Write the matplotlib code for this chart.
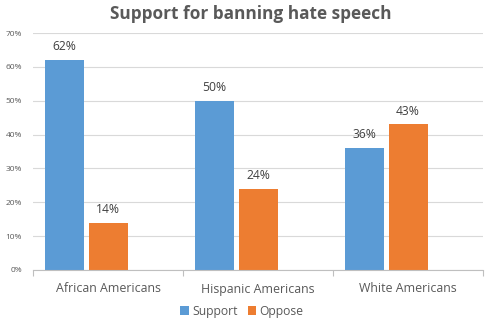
import numpy as np
import matplotlib.pyplot as plt
from matplotlib.ticker import FixedLocator, PercentFormatter

plt.rcParams['font.family'] = ['Open Sans', 'DejaVu Sans']

groups = ['African Americans', 'Hispanic Americans', 'White Americans']
support = [62, 50, 36]
oppose = [14, 24, 43]
yticks = [0, 10, 20, 30, 40, 50, 60, 70]

blue = '#5B9BD5'
orange = '#ED7D31'
text_c = '#595959'

fig = plt.figure(figsize=(4.87, 3.30), dpi=100)
ax = fig.add_axes([33 / 487, 60 / 330, 450 / 487, 237 / 330])

x = np.arange(len(groups))
w = 0.26
step = 0.293
b1 = ax.bar(x - step, support, w, color=blue, label='Support')
b2 = ax.bar(x, oppose, w, color=orange, label='Oppose')

# value labels sit just above each bar
for bars in (b1, b2):
    for r in bars:
        ax.text(r.get_x() + r.get_width() / 2, r.get_height() + 2.0,
                f'{r.get_height():.0f}%', ha='center', va='bottom',
                fontsize=8.7, color='#404040')

ax.set_xlim(-0.5, 2.5)
ax.set_ylim(0, 70)
ax.set_yticks(yticks)
ax.yaxis.set_major_formatter(PercentFormatter(decimals=0))
ax.tick_params(axis='y', length=0, labelsize=6, labelcolor=text_c, pad=8)
ax.grid(axis='y', color='#D9D9D9', linewidth=0.8)
ax.set_axisbelow(True)

ax.set_xticks(x)
ax.set_xticklabels(groups, fontsize=8.9, color=text_c)
ax.tick_params(axis='x', length=0, pad=9)
ax.xaxis.set_minor_locator(FixedLocator([-0.5, 0.5, 1.5, 2.5]))
ax.tick_params(axis='x', which='minor', length=4, color='#BFBFBF', width=0.8)

for s in ('top', 'right', 'left'):
    ax.spines[s].set_visible(False)
ax.spines['bottom'].set_color('#BFBFBF')
ax.spines['bottom'].set_linewidth(0.8)

fig.suptitle('Support for banning hate speech', x=0.515, y=0.985,
             fontsize=12.4, fontweight='bold', color=text_c)

ax.legend(loc='center', bbox_to_anchor=(242 / 487, 19 / 330),
          bbox_transform=fig.transFigure, ncol=2, frameon=False,
          fontsize=8.7, labelcolor=text_c, handlelength=0.7,
          handleheight=0.7, handletextpad=0.3, columnspacing=0.8)

fig.savefig('out.png', dpi=100)
